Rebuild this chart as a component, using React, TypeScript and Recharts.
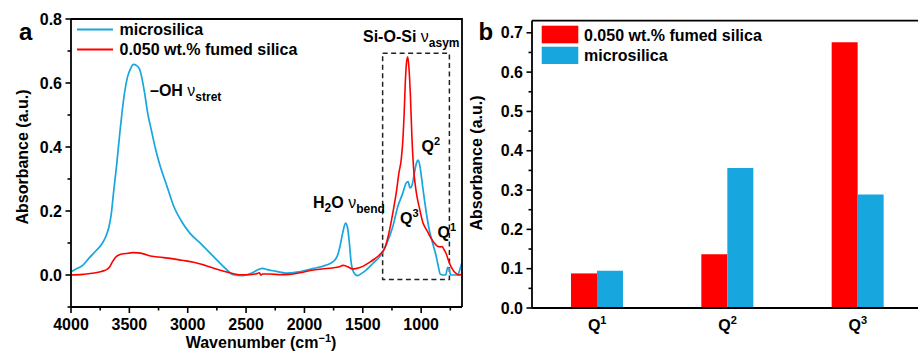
import React from "react";
import { Bar, BarChart, Line, LineChart, ReferenceArea, XAxis, YAxis } from "recharts";

const RED = "#ff0000";
const BLUE = "#17a6de";
const AXIS = "#000";
const FONT = '"Liberation Sans", Arial, sans-serif';

// panel a: FTIR spectra (wavenumber cm-1 -> absorbance)
const microWn = [
  4000, 3950, 3900, 3840, 3780, 3730, 3700, 3675, 3655, 3635, 3610, 3580, 3545, 3515, 3490, 3465, 3440, 3415, 3395,
  3370, 3340, 3310, 3280, 3240, 3180, 3120, 3060, 2980, 2890, 2780, 2670, 2610, 2530, 2450, 2390, 2360, 2320, 2250,
  2160, 2050, 1930, 1820, 1760, 1720, 1695, 1670, 1648, 1632, 1615, 1600, 1580, 1545, 1510, 1470, 1414, 1343, 1300,
  1243, 1200, 1158, 1129, 1112, 1095, 1078, 1058, 1040, 1025, 1008, 987, 958, 930, 901, 875, 858, 835, 815, 790, 772,
  762, 748, 690, 670, 653,
];
const microAbs = [
  0.01, 0.02, 0.03, 0.055, 0.078, 0.1, 0.122, 0.15, 0.19, 0.26, 0.34, 0.45, 0.56, 0.62, 0.645, 0.658, 0.655, 0.645,
  0.62, 0.57, 0.5, 0.45, 0.4, 0.345, 0.28, 0.215, 0.172, 0.13, 0.099, 0.058, 0.018, 0.001, -0.002, 0.006, 0.018, 0.021,
  0.017, 0.012, 0.006, 0.01, 0.02, 0.03, 0.04, 0.058, 0.09, 0.135, 0.162, 0.15, 0.1, 0.04, 0.01, -0.002, 0.005, 0.016,
  0.036, 0.063, 0.094, 0.151, 0.214, 0.255, 0.287, 0.292, 0.272, 0.28, 0.318, 0.35, 0.359, 0.335, 0.276, 0.2, 0.14,
  0.099, 0.065, 0.036, 0.002, 0.0, 0.0, 0.024, 0.022, 0.0, 0.0, 0.015, 0.036,
];

const fumedWn = [
  4000, 3900, 3800, 3740, 3700, 3670, 3650, 3620, 3580, 3530, 3470, 3420, 3380, 3330, 3250, 3150, 3050, 2950, 2850,
  2750, 2650, 2560, 2480, 2420, 2385, 2375, 2360, 2300, 2200, 2130, 2040, 1950, 1850, 1760, 1700, 1670, 1650, 1620,
  1590, 1560, 1500, 1440, 1400, 1343, 1310, 1280, 1260, 1235, 1214, 1190, 1171, 1157, 1145, 1137, 1125, 1115, 1105,
  1092, 1080, 1066, 1050, 1030, 1015, 1000, 986, 960, 944, 915, 886, 860, 835, 820, 805, 787, 765, 744, 720, 700, 680,
  653,
];
const fumedAbs = [
  0.0, 0.002, 0.006, 0.011, 0.016, 0.025, 0.038, 0.055, 0.064, 0.067, 0.07, 0.069, 0.066, 0.06, 0.056, 0.052, 0.046,
  0.04, 0.03, 0.018, 0.008, 0.001, 0.001, 0.003, 0.007, 0.0, 0.003, 0.003, 0.001, 0.002, 0.007, 0.014, 0.019, 0.022,
  0.026, 0.03, 0.029, 0.024, 0.019, 0.02, 0.027, 0.04, 0.05, 0.068, 0.085, 0.125, 0.16, 0.21, 0.255, 0.32, 0.36, 0.42,
  0.51, 0.59, 0.665, 0.682, 0.65, 0.56, 0.44, 0.34, 0.28, 0.234, 0.21, 0.185, 0.165, 0.145, 0.135, 0.115, 0.099, 0.09,
  0.088, 0.089, 0.08, 0.068, 0.045, 0.026, 0.012, 0.005, 0.0, 0.002,
];

const wnTicks = [4000, 3750, 3500, 3250, 3000, 2750, 2500, 2250, 2000, 1750, 1500, 1250, 1000, 750];
const absTicks = [-0.1, 0, 0.1, 0.2, 0.3, 0.4, 0.5, 0.6, 0.7, 0.8];

// panel b: band intensities
const bands = ["Q1", "Q2", "Q3"];
const fumedBand = [0.088, 0.137, 0.676];
const microBand = [0.095, 0.356, 0.289];
const barTicks = [0, 0.05, 0.1, 0.15, 0.2, 0.25, 0.3, 0.35, 0.4, 0.45, 0.5, 0.55, 0.6, 0.65, 0.7];

const microData = microWn.map((wn, i) => ({ wn, abs: microAbs[i] }));
const fumedData = fumedWn.map((wn, i) => ({ wn, abs: fumedAbs[i] }));
const barData = bands.map((band, i) => ({ band, fumed: fumedBand[i], micro: microBand[i] }));

const txt = { fontFamily: FONT, fontWeight: "bold" as const, fontSize: 16, fill: "#000" };
const axisLine = { stroke: AXIS, strokeWidth: 1.8 };

// minor ticks are drawn shorter than major ones, labels only on majors
function WnTick({ x, y, payload }: any) {
  const v = payload.value;
  const major = v % 500 === 0;
  const y0 = y - 8;
  return (
    <g>
      <path d={`M${x},${y0}V${y0 + (major ? 6 : 3.5)}`} stroke={AXIS} strokeWidth={1.6} fill="none" />
      {major && (
        <text x={x} y={y0 + 23} textAnchor="middle" {...txt}>
          {v}
        </text>
      )}
    </g>
  );
}

function makeYTick(step: number) {
  return function YTick({ x, y, payload }: any) {
    const v = payload.value;
    const k = Math.round(v / step);
    const major = k % 2 === 0 && v >= 0;
    const x0 = x + 8;
    return (
      <g>
        <path d={`M${x0},${y}H${x0 - (major ? 5.5 : 3.5)}`} stroke={AXIS} strokeWidth={1.6} fill="none" />
        {major && (
          <text x={x0 - 9} y={y + 5.7} textAnchor="end" {...txt}>
            {v.toFixed(1)}
          </text>
        )}
      </g>
    );
  };
}

function BandTick({ x, y, payload }: any) {
  const y0 = y - 8;
  return (
    <text x={x} y={y0 + 23} textAnchor="middle" {...txt}>
      {payload.value.slice(0, 1)}
      <tspan dy={-7} fontSize={11}>
        {payload.value.slice(1)}
      </tspan>
    </text>
  );
}

export default function App() {
  return (
    <div
      style={{
        position: "absolute",
        left: 0,
        top: 0,
        width: 918,
        height: 354,
        overflow: "hidden",
        background: "#fff",
      }}
    >
      <div style={{ position: "absolute", left: 0, top: 0 }}>
        <LineChart width={470} height={354} margin={{ top: 19, right: 8, left: 21, bottom: 17 }}>
          <XAxis
            dataKey="wn"
            type="number"
            domain={[650, 4000]}
            reversed
            allowDataOverflow
            ticks={wnTicks}
            interval={0}
            height={30}
            stroke={AXIS}
            tickSize={6}
            tickMargin={2}
            tickLine={false}
            axisLine={axisLine}
            tick={<WnTick />}
          />
          <YAxis
            type="number"
            domain={[-0.1, 0.8]}
            allowDataOverflow
            ticks={absTicks}
            interval={0}
            width={50}
            stroke={AXIS}
            tickSize={6}
            tickMargin={2}
            tickLine={false}
            axisLine={axisLine}
            tick={makeYTick(0.1)}
          />
          <ReferenceArea
            x1={1330}
            x2={758}
            y1={-0.014}
            y2={0.693}
            fill="none"
            fillOpacity={0}
            stroke="#222"
            strokeWidth={1.5}
            strokeDasharray="5 3.5"
          />
          <Line
            data={microData}
            dataKey="abs"
            type="monotone"
            stroke={BLUE}
            strokeWidth={1.7}
            dot={false}
            isAnimationActive={false}
          />
          <Line
            data={fumedData}
            dataKey="abs"
            type="monotone"
            stroke={RED}
            strokeWidth={1.6}
            dot={false}
            isAnimationActive={false}
          />
        </LineChart>
      </div>

      <div style={{ position: "absolute", left: 470, top: 0 }}>
        <BarChart
          width={458}
          height={354}
          data={barData}
          margin={{ top: 21, right: 5, left: 12, bottom: 16 }}
          barGap={0}
          barSize={26}
        >
          <XAxis
            dataKey="band"
            height={30}
            stroke={AXIS}
            tickLine={false}
            tickSize={6}
            tickMargin={2}
            axisLine={axisLine}
            tick={<BandTick />}
            interval={0}
          />
          <YAxis
            type="number"
            domain={[0, 0.73]}
            allowDataOverflow
            ticks={barTicks}
            interval={0}
            width={50}
            stroke={AXIS}
            tickSize={6}
            tickMargin={2}
            tickLine={false}
            axisLine={axisLine}
            tick={makeYTick(0.05)}
          />
          <Bar dataKey="fumed" fill={RED} isAnimationActive={false} />
          <Bar dataKey="micro" fill={BLUE} isAnimationActive={false} />
        </BarChart>
      </div>

      <svg width={918} height={354} style={{ position: "absolute", left: 0, top: 0, pointerEvents: "none" }}>
        {/* top / right edges of the plot boxes */}
        <path d="M71,19H462V307" fill="none" stroke={AXIS} strokeWidth={1.8} />
        <path d="M531.7,20.7H920" fill="none" stroke={AXIS} strokeWidth={1.8} />

        {/* panel letters */}
        <text x={19} y={39.5} {...txt} fontSize={24}>
          a
        </text>
        <text x={478.5} y={39.5} {...txt} fontSize={24}>
          b
        </text>

        {/* panel a legend */}
        <line x1={77} x2={113} y1={29.5} y2={29.5} stroke={BLUE} strokeWidth={2} />
        <text x={119.5} y={35} {...txt}>
          microsilica
        </text>
        <line x1={77} x2={113} y1={49.5} y2={49.5} stroke={RED} strokeWidth={2} />
        <text x={119.5} y={55} {...txt}>
          0.050 wt.% fumed silica
        </text>

        {/* panel a annotations */}
        <text x={150} y={96} {...txt}>
          –OH <tspan fontWeight="normal">ν</tspan>
          <tspan dy={5} fontSize={12}>
            stret
          </tspan>
        </text>
        <text x={313} y={208} {...txt}>
          H
          <tspan dy={4} fontSize={12}>
            2
          </tspan>
          <tspan dy={-4}>O </tspan>
          <tspan fontWeight="normal">ν</tspan>
          <tspan dy={5} fontSize={12}>
            bend
          </tspan>
        </text>
        <text x={363} y={42} {...txt}>
          Si-O-Si <tspan fontWeight="normal">ν</tspan>
          <tspan dy={5} fontSize={12}>
            asym
          </tspan>
        </text>
        <text x={421.5} y={152} {...txt}>
          Q
          <tspan dy={-7} fontSize={11}>
            2
          </tspan>
        </text>
        <text x={400} y={224} {...txt}>
          Q
          <tspan dy={-7} fontSize={11}>
            3
          </tspan>
        </text>
        <text x={437.5} y={238} {...txt}>
          Q
          <tspan dy={-7} fontSize={11}>
            1
          </tspan>
        </text>

        {/* axis titles */}
        <text x={261} y={348} textAnchor="middle" {...txt}>
          Wavenumber (cm
          <tspan dy={-6} fontSize={11}>
            −1
          </tspan>
          <tspan dy={6}>)</tspan>
        </text>
        <text x={27.5} y={157} textAnchor="middle" transform="rotate(-90 27.5 157)" {...txt}>
          Absorbance (a.u.)
        </text>
        <text x={482} y={163} textAnchor="middle" transform="rotate(-90 482 163)" {...txt}>
          Absorbance (a.u.)
        </text>

        {/* panel b legend */}
        <rect x={541.7} y={25.7} width={36.6} height={17.6} fill={RED} />
        <text x={584} y={40.5} {...txt}>
          0.050 wt.% fumed silica
        </text>
        <rect x={541.7} y={46.7} width={36.6} height={17.3} fill={BLUE} />
        <text x={584} y={60.5} {...txt}>
          microsilica
        </text>
      </svg>
    </div>
  );
}
